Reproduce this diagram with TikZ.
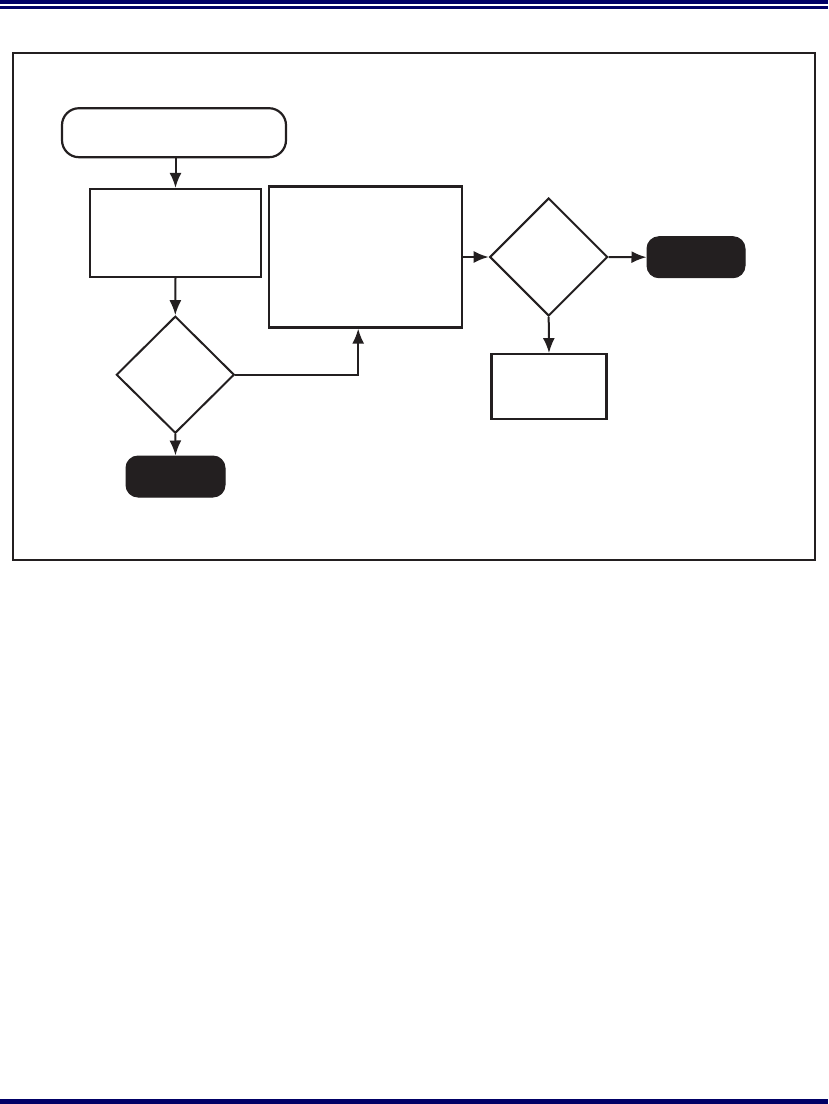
\documentclass[tikz,border=0pt]{standalone}
\usetikzlibrary{shapes.geometric,arrows.meta}
\definecolor{navy}{HTML}{000066}
\definecolor{ink}{HTML}{231F20}
\begin{document}
\begin{tikzpicture}[x=1pt,y=-1pt,
  box/.style={draw=ink, rectangle, inner sep=0pt, line width=2.2pt},
  startterm/.style={draw=ink, rectangle, rounded corners=17pt, inner sep=0pt, line width=2.2pt},
  endterm/.style={draw=ink, fill=ink, rectangle, rounded corners=12pt, inner sep=0pt, line width=1pt},
  decision/.style={draw=ink, diamond, aspect=1, inner sep=0pt, line width=2pt},
  flow/.style={draw=ink, line width=2pt, -{Latex[length=15pt,width=12pt]}}
]
\useasboundingbox (0,0) rectangle (828,1104);
% header / footer bars
\fill[navy] (0,0) rectangle (828,4.3);
\fill[navy] (0,6) rectangle (828,8.7);
\fill[navy] (0,1099) rectangle (828,1104);
% frame
\draw[ink, line width=2pt] (12.5,53) rectangle (814.5,560);
% nodes
\node[startterm, minimum width=224pt, minimum height=49pt] (s) at (174,132.7) {};
\node[box, minimum width=171pt, minimum height=88pt] (b1) at (175.5,233) {};
\node[decision, minimum width=118pt, minimum height=117pt] (d1) at (175.3,374.7) {};
\node[endterm, minimum width=99pt, minimum height=41pt] (e1) at (175.5,476.5) {};
\node[box, minimum width=193pt, minimum height=141pt] (b2) at (365.7,257) {};
\node[decision, minimum width=118pt, minimum height=118pt] (d2) at (548.7,257) {};
\node[endterm, minimum width=98pt, minimum height=41pt] (e2) at (696,257.2) {};
\node[box, minimum width=115pt, minimum height=65pt] (b3) at (549,386.7) {};
% connectors
\draw[flow] (b1.north |- s.south) -- (b1.north);
\draw[flow] (b1.south) -- (d1.north);
\draw[flow] (d1.south) -- (e1.north);
\draw[flow] (d1.east) -| ([xshift=-7.5pt]b2.south);
\draw[flow] (b2.east) -- (d2.west);
\draw[flow] (d2.east) -- (e2.west);
\draw[flow] (d2.south) -- (b3.north);
\end{tikzpicture}
\end{document}
